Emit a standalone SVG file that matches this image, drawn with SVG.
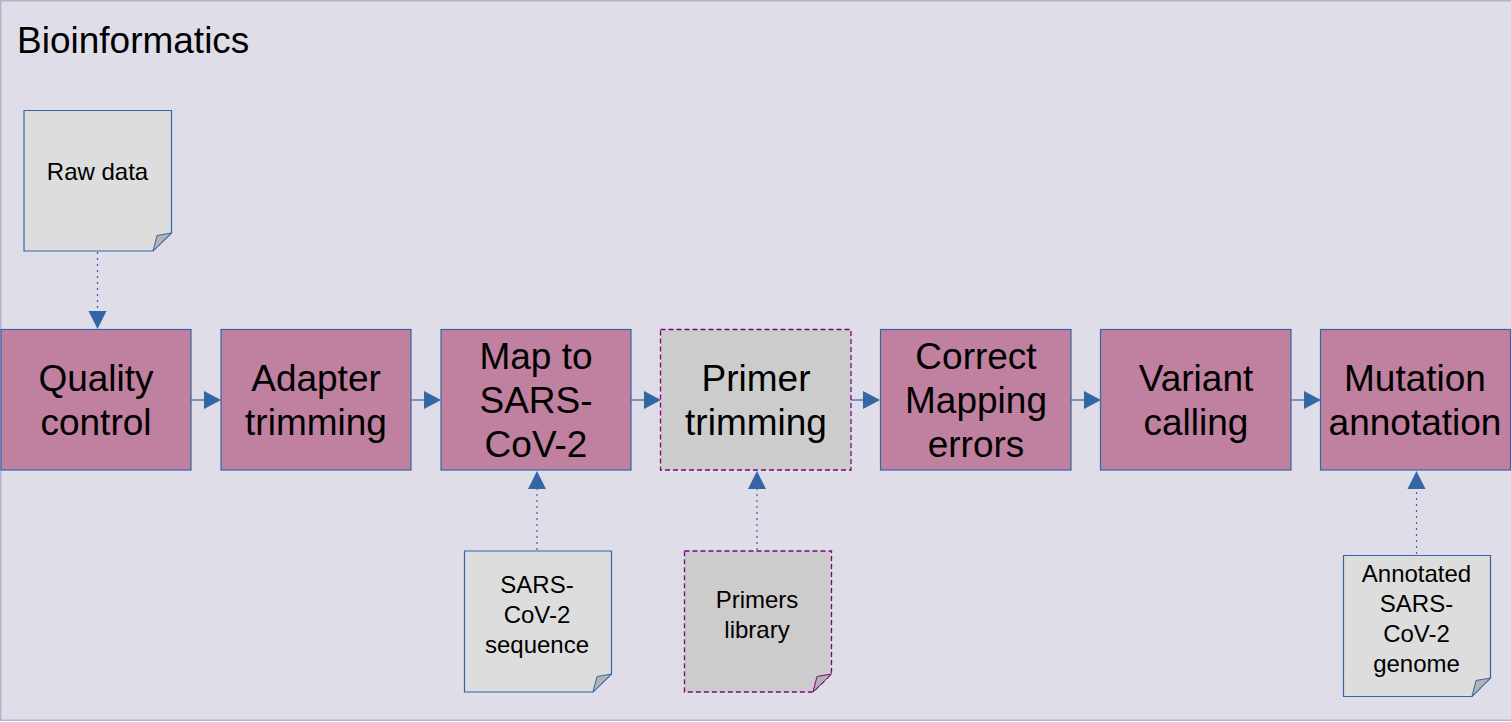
<svg xmlns="http://www.w3.org/2000/svg" width="1511" height="722" viewBox="0 0 1511 722">
<style>
.bg{fill:#dfdde8;stroke:#b4b3cf;stroke-width:1.5}
.proc{fill:#c0809f;stroke:#3465a4;stroke-width:1.2}
.dproc{fill:#cccccc;stroke:#800080;stroke-width:1.3;stroke-dasharray:5,3}
.note{fill:#dddddd;stroke:#3465a4;stroke-width:1.2}
.dnote{fill:#cccccc;stroke:#800080;stroke-width:1.3;stroke-dasharray:5,3}
.fold{fill:#b3b3b3;stroke:#3465a4;stroke-width:1}
.dfold{fill:#b3b3b3;stroke:#800080;stroke-width:1}
.big{font-family:"Liberation Sans",Arial,sans-serif;font-size:37px;fill:#000;text-anchor:middle}
.title{font-family:"Liberation Sans",Arial,sans-serif;font-size:37px;fill:#000}
.small{font-family:"Liberation Sans",Arial,sans-serif;font-size:24px;fill:#000;text-anchor:middle}
.flow{stroke:#3465a4;stroke-width:1.2;fill:none}
.dot{stroke:#3465a4;stroke-width:1.2;fill:none;stroke-dasharray:2,4}
.head{fill:#3465a4}
</style>
<rect class="bg" x="0.75" y="0.75" width="1511" height="719.5"/>
<text class="title" x="17" y="53">Bioinformatics</text>

<g id="connectors">
  <line class="flow" x1="191" y1="400" x2="205" y2="400"/><polygon class="head" points="204,391 221,400 204,409"/>
  <line class="flow" x1="411" y1="400" x2="425" y2="400"/><polygon class="head" points="424,391 441,400 424,409"/>
  <line class="flow" x1="631" y1="400" x2="645" y2="400"/><polygon class="head" points="644,391 661,400 644,409"/>
  <line class="flow" x1="851" y1="400" x2="864" y2="400"/><polygon class="head" points="863,391 880,400 863,409"/>
  <line class="flow" x1="1071" y1="400" x2="1085" y2="400"/><polygon class="head" points="1084,391 1101,400 1084,409"/>
  <line class="flow" x1="1291" y1="400" x2="1305" y2="400"/><polygon class="head" points="1304,391 1321,400 1304,409"/>
  <line class="dot" x1="97.5" y1="252" x2="97.5" y2="311"/><polygon class="head" points="88.5,311 106.5,311 97.5,329"/>
  <line class="dot" x1="537" y1="550" x2="537" y2="489"/><polygon class="head" points="528,489 546,489 537,471"/>
  <line class="dot" x1="757" y1="550" x2="757" y2="489"/><polygon class="head" points="748,489 766,489 757,471"/>
  <line class="dot" x1="1416.5" y1="554" x2="1416.5" y2="489"/><polygon class="head" points="1407.5,489 1425.5,489 1416.5,471"/>
</g>

<g id="quality-control"><rect class="proc" x="1" y="329.5" width="190" height="140.5"/>
<text class="big" x="96" y="391">Quality</text><text class="big" x="96" y="435">control</text></g>
<g id="adapter-trimming"><rect class="proc" x="221" y="329.5" width="190" height="140.5"/>
<text class="big" x="316" y="391">Adapter</text><text class="big" x="316" y="435">trimming</text></g>
<g id="map-to-sars"><rect class="proc" x="441" y="329.5" width="190" height="140.5"/>
<text class="big" x="536" y="369">Map to</text><text class="big" x="536" y="413">SARS-</text><text class="big" x="536" y="457">CoV-2</text></g>
<g id="primer-trimming"><rect class="dproc" x="660.5" y="329.5" width="190.5" height="140.5"/>
<text class="big" x="756" y="391">Primer</text><text class="big" x="756" y="435">trimming</text></g>
<g id="correct-mapping"><rect class="proc" x="880.5" y="329.5" width="190.5" height="140.5"/>
<text class="big" x="976" y="369">Correct</text><text class="big" x="976" y="413">Mapping</text><text class="big" x="976" y="457">errors</text></g>
<g id="variant-calling"><rect class="proc" x="1100.5" y="329.5" width="190.5" height="140.5"/>
<text class="big" x="1196" y="391">Variant</text><text class="big" x="1196" y="435">calling</text></g>
<g id="mutation-annotation"><rect class="proc" x="1320.5" y="329.5" width="190" height="140.5"/>
<text class="big" x="1415" y="391">Mutation</text><text class="big" x="1415" y="435">annotation</text></g>

<g id="raw-data"><path class="note" d="M24,110.5 H171.5 V233 L153,251 H24 Z"/><path class="fold" d="M171.5,233 L157,235.5 L153,251 Z"/>
<text class="small" x="97.5" y="180">Raw data</text></g>
<g id="sars-sequence"><path class="note" d="M464.5,551 H611.5 V674 L593,692 H464.5 Z"/><path class="fold" d="M611.5,674 L597,676.5 L593,692 Z"/>
<text class="small" x="537" y="593">SARS-</text><text class="small" x="537" y="623">CoV-2</text><text class="small" x="537" y="653">sequence</text></g>
<g id="primers-library"><path class="dnote" d="M684.5,551 H831.5 V674 L813,692 H684.5 Z"/><path class="dfold" d="M831.5,674 L817,676.5 L813,692 Z"/>
<text class="small" x="757" y="608">Primers</text><text class="small" x="757" y="638">library</text></g>
<g id="annotated-genome"><path class="note" d="M1343.5,555.5 H1490.5 V678 L1472,696.5 H1343.5 Z"/><path class="fold" d="M1490.5,678 L1476,680.5 L1472,696.5 Z"/>
<text class="small" x="1416.5" y="582">Annotated</text><text class="small" x="1416.5" y="612">SARS-</text><text class="small" x="1416.5" y="642">CoV-2</text><text class="small" x="1416.5" y="672">genome</text></g>
</svg>
